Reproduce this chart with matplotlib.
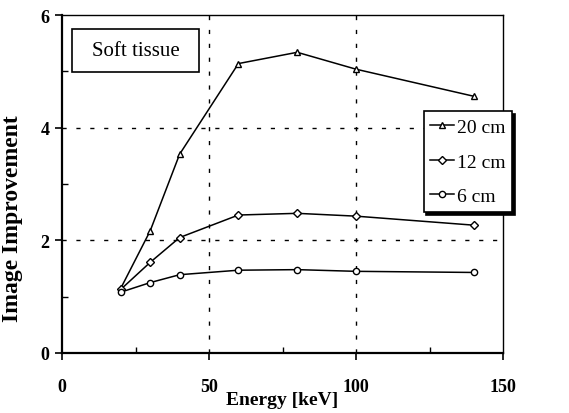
import matplotlib
matplotlib.use("Agg")
import matplotlib.pyplot as plt
from matplotlib.ticker import MultipleLocator
from matplotlib.patches import Rectangle, Shadow

energy = [20, 30, 40, 60, 80, 100, 140]
cm20 = [1.15, 2.17, 3.53, 5.14, 5.34, 5.04, 4.56]
cm12 = [1.13, 1.61, 2.05, 2.45, 2.48, 2.43, 2.27]
cm6 = [1.08, 1.25, 1.39, 1.47, 1.48, 1.45, 1.43]
labels = ["20 cm", "12 cm", "6 cm"]

plt.rcParams['font.family'] = ['Liberation Serif', 'DejaVu Serif']

fig = plt.figure(figsize=(5.69, 4.14), dpi=100)
ax = fig.add_axes([0.109, 0.145, 0.775, 0.816])

ax.plot(energy, cm20, '-', color='black', lw=1.1, marker='^', ms=5, mfc='white', mec='black', mew=1.0, label=labels[0])
ax.plot(energy, cm12, '-', color='black', lw=1.1, marker='D', ms=4, mfc='white', mec='black', mew=1.0, label=labels[1])
ax.plot(energy, cm6, '-', color='black', lw=1.1, marker='o', ms=4.5, mfc='white', mec='black', mew=1.0, label=labels[2])

ax.set_xlim(0, 150)
ax.set_ylim(0, 6)
ax.xaxis.set_major_locator(MultipleLocator(50))
ax.xaxis.set_minor_locator(MultipleLocator(25))
ax.yaxis.set_major_locator(MultipleLocator(2))
ax.yaxis.set_minor_locator(MultipleLocator(1))
ax.tick_params(which='major', direction='out', length=5, width=1.2, labelsize=13)
ax.tick_params(axis='x', which='major', pad=13)
ax.tick_params(axis='y', which='major', pad=4)
ax.tick_params(which='minor', direction='in', length=4, width=1.0)
for lab in ax.get_xticklabels() + ax.get_yticklabels():
    lab.set_fontweight('bold')

for v in [50, 100]:
    ax.axvline(v, color='black', ls=(0, (3, 7)), lw=1.0, zorder=0)
for v in [2, 4]:
    ax.axhline(v, color='black', ls=(0, (3, 7)), lw=1.0, zorder=0)

for s in ['left', 'bottom']:
    ax.spines[s].set_linewidth(1.6)
for s in ['top', 'right']:
    ax.spines[s].set_linewidth(1.0)

ax.set_xlabel("Energy [keV]", fontsize=14, fontweight='bold')
ax.xaxis.set_label_coords(0.5, -0.113)
ax.set_ylabel("Image Improvement", fontsize=17, fontweight='bold')
ax.yaxis.set_label_coords(-0.088, 0.40)

leg = ax.legend(loc='upper left', bbox_to_anchor=(0.820, 0.715), fontsize=14, frameon=True,
                fancybox=False, shadow={'color': 'black', 'alpha': 1.0}, handlelength=1.2,
                handletextpad=0.15, borderpad=0.35, labelspacing=0.88, borderaxespad=0)
leg.get_frame().set_edgecolor('black')
leg.get_frame().set_linewidth(1.2)
leg.get_frame().set_alpha(1.0)

x0, x1 = 0.0227, 0.3107
y0, y1 = 0.831, 0.9586
box = Rectangle((x0, y0), x1 - x0, y1 - y0, transform=ax.transAxes, fc='white', ec='black', lw=1.2, zorder=5)
shadow = Shadow(box, 2, -2, color='black', alpha=1.0, zorder=4.9)
ax.add_patch(shadow)
ax.add_patch(box)
ax.text((x0 + x1) / 2, (y0 + y1) / 2, "Soft tissue", transform=ax.transAxes, fontsize=15,
        va='center', ha='center', zorder=6)

fig.savefig("out.png", dpi=100)
